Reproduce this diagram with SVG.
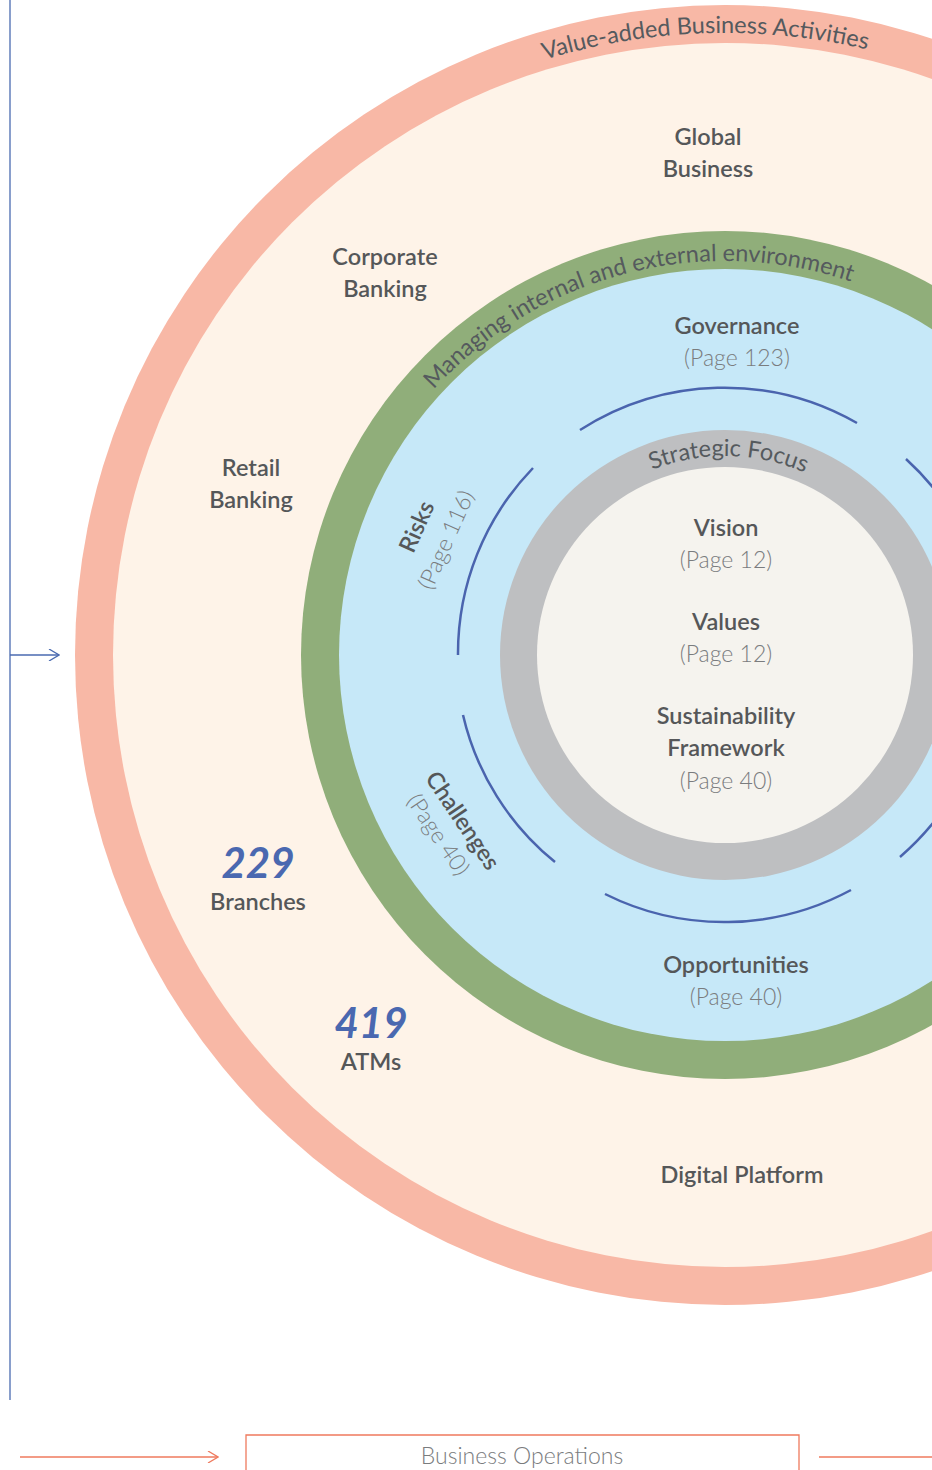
<svg xmlns="http://www.w3.org/2000/svg" width="932" height="1470" viewBox="0 0 932 1470">
<style>
.t{font-family:Lato,"Open Sans","Liberation Sans",sans-serif;fill:#555759;text-anchor:middle}
.b{font-size:23.5px;font-weight:600}
.p{font-size:23px;font-weight:300;fill:#7a7c7e}
.n{font-size:42px;font-weight:700;font-style:italic;fill:#4a68b0}
.arc{font-family:Lato,"Open Sans","Liberation Sans",sans-serif;fill:#555a5e;font-size:23.5px}
.ba{fill:none;stroke:#4a64ae;stroke-width:2.5}
</style>
<defs>
<path id="pOuter" d="M 103 655 A 622 622 0 0 1 1347 655"/>
<path id="pGreen" d="M 331 655 A 394 394 0 0 1 1119 655"/>
<path id="pGray" d="M 526 655 A 199 199 0 0 1 924 655"/>
<marker id="chevB" viewBox="0 0 12 12" refX="11" refY="6" markerWidth="12" markerHeight="12" markerUnits="userSpaceOnUse" orient="auto"><path d="M1 0 L11 6 L1 12" fill="none" stroke="#4a6ab0" stroke-width="1.3"/></marker>
<marker id="chevO" viewBox="0 0 12 12" refX="11" refY="6" markerWidth="12" markerHeight="12" markerUnits="userSpaceOnUse" orient="auto"><path d="M1 0 L11 6 L1 12" fill="none" stroke="#ef7a5e" stroke-width="1.3"/></marker>
</defs>
<rect width="932" height="1470" fill="#ffffff"/>
<g id="rings">
<circle cx="725" cy="655" r="650" fill="#f8b8a6"/>
<circle cx="725" cy="655" r="612" fill="#fef3e8"/>
<circle cx="725" cy="655" r="424" fill="#90ae7a"/>
<circle cx="725" cy="655" r="386" fill="#c6e8f8"/>
<circle cx="725" cy="655" r="225" fill="#bebfc1"/>
<circle cx="725" cy="655" r="188" fill="#f5f3ee"/>
</g>
<g id="ring-labels">
<text class="arc"><textPath href="#pOuter" startOffset="957" text-anchor="middle">Value-added Business Activities</textPath></text>
<text class="arc"><textPath href="#pGreen" startOffset="519" text-anchor="middle">Managing internal and external environment</textPath></text>
<text class="arc"><textPath href="#pGray" startOffset="316" text-anchor="middle">Strategic Focus</textPath></text>
</g>
<g id="connectors">
<path class="ba" d="M 580 430 A 267 267 0 0 1 857 423"/>
<path class="ba" d="M 533 468 A 267 267 0 0 0 458 655"/>
<path class="ba" d="M 463 715 A 267 267 0 0 0 555 862"/>
<path class="ba" d="M 605 894 A 267 267 0 0 0 851 890"/>
<path class="ba" d="M 906 459 A 267 267 0 0 1 975 560"/>
<path class="ba" d="M 975 750 A 267 267 0 0 1 900 857"/>
<line x1="10" y1="0" x2="10" y2="1400" stroke="#4a6ab0" stroke-width="1.3"/>
<line x1="10" y1="655" x2="59" y2="655" stroke="#4a6ab0" stroke-width="1.3" marker-end="url(#chevB)"/>
<line x1="20" y1="1457" x2="218" y2="1457" stroke="#ef7a5e" stroke-width="1.3" marker-end="url(#chevO)"/>
<line x1="819" y1="1457" x2="932" y2="1457" stroke="#ef7a5e" stroke-width="1.3"/>
</g>
<g id="global-business"><text class="t b" x="708" y="145">Global</text><text class="t b" x="708" y="177">Business</text></g>
<g id="corporate-banking"><text class="t b" x="385" y="265">Corporate</text><text class="t b" x="385" y="297">Banking</text></g>
<g id="retail-banking"><text class="t b" x="251" y="476">Retail</text><text class="t b" x="251" y="508">Banking</text></g>
<g id="governance"><text class="t b" x="737" y="334">Governance</text><text class="t p" x="737" y="366">(Page 123)</text></g>
<g id="vision"><text class="t b" x="726" y="536">Vision</text><text class="t p" x="726" y="568">(Page 12)</text></g>
<g id="values"><text class="t b" x="726" y="630">Values</text><text class="t p" x="726" y="662">(Page 12)</text></g>
<g id="sustainability"><text class="t b" x="726" y="724">Sustainability</text><text class="t b" x="726" y="756">Framework</text><text class="t p" x="726" y="789">(Page 40)</text></g>
<g id="opportunities"><text class="t b" x="736" y="973">Opportunities</text><text class="t p" x="736" y="1005">(Page 40)</text></g>
<g id="risks" transform="translate(424,530) rotate(-66)"><text class="t b" x="0" y="0">Risks</text><text class="t p" x="0" y="32">(Page 116)</text></g>
<g id="challenges" transform="translate(456,825) rotate(56)"><text class="t b" x="0" y="0">Challenges</text><text class="t p" x="-2" y="28">(Page 40)</text></g>
<g id="branches"><text class="t n" x="258" y="878">229</text><text class="t b" x="258" y="910">Branches</text></g>
<g id="atms"><text class="t n" x="371" y="1038">419</text><text class="t b" x="371" y="1070">ATMs</text></g>
<g id="digital-platform"><text class="t b" x="742" y="1183">Digital Platform</text></g>
<g id="business-operations"><path d="M 246 1470 L 246 1435 L 799 1435 L 799 1470" fill="none" stroke="#ef7a5e" stroke-width="1.3"/><text class="t p" x="522" y="1464">Business Operations</text></g>
</svg>
